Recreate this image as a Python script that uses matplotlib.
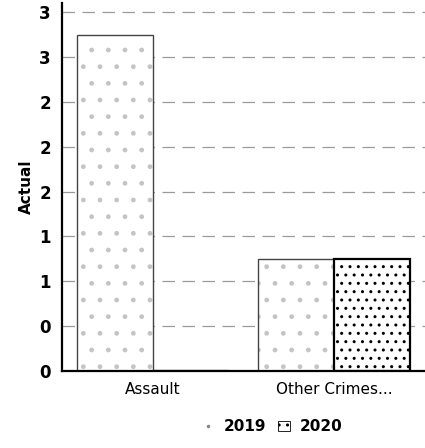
import matplotlib
matplotlib.use("Agg")
import matplotlib.pyplot as plt
import numpy as np
from matplotlib.patches import Patch
from matplotlib.lines import Line2D

# data
categories = ["Assault", "Other Crimes..."]
series_names = ["2019", "2020"]
actual_2019 = [3.0, 1.0]
actual_2020 = [0.0, 1.0]
y_ticks = [0, 0.4, 0.8, 1.2, 1.6, 2.0, 2.4, 2.8, 3.2]

fig = plt.figure(figsize=(4.25, 4.48), dpi=100)
ax = fig.add_axes([0.146, 0.172, 0.854, 0.821])

x = np.arange(len(categories))
width = 0.42

ax.set_axisbelow(True)
ax.yaxis.grid(True, color="#9a9a9a", linewidth=0.9, linestyle=(0, (10, 6)))

# 2019: light speckle fill, darker outline drawn separately
ax.bar(x - width / 2, actual_2019, width, color="white", edgecolor="#c4c4c4",
       linewidth=0, hatch=".", label=series_names[0])
ax.bar(x - width / 2, actual_2019, width, fill=False, edgecolor="#444444",
       linewidth=1.0)
ax.bar(x + width / 2, actual_2020, width, color="white", edgecolor="black",
       linewidth=1.6, hatch="..", label=series_names[1])

ax.set_xlim(-0.5, 1.5)
ax.set_ylim(0, 3.28)
ax.set_yticks(y_ticks)
ax.set_yticklabels([f"{v:.0f}" for v in y_ticks], fontweight="bold", fontsize=12)
ax.set_xticks(x)
ax.set_xticklabels(categories, fontsize=11)
ax.tick_params(length=0, pad=8)
ax.set_ylabel("Actual", fontweight="bold", fontsize=11, labelpad=4)

for side in ["top", "right"]:
    ax.spines[side].set_visible(False)
ax.spines["left"].set_linewidth(1.6)
ax.spines["bottom"].set_linewidth(1.6)

handles = [
    Line2D([], [], marker=".", linestyle="none", color="#888888", markersize=3),
    Patch(facecolor="white", edgecolor="black", hatch="..", linewidth=0.6),
]
fig.legend(handles, series_names, loc="lower center", bbox_to_anchor=(0.64, 0.0),
           ncol=2, frameon=False, handlelength=0.8,
           handletextpad=0.6, columnspacing=0.8,
           prop={"weight": "bold", "size": 11})

fig.savefig("out.png", dpi=100)
